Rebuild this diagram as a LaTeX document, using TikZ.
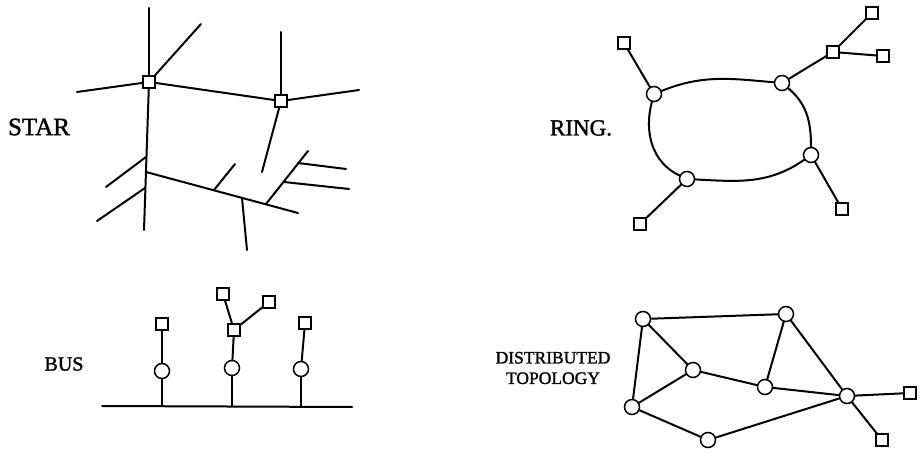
\documentclass[tikz,border=0pt]{standalone}
\usepackage{fontspec}
\setmainfont{Liberation Serif}
\newfontfamily\lblfont{Liberation Serif}[FakeBold=1.5]
\begin{document}
\begin{tikzpicture}[x=1pt,y=1pt,
  ln/.style={line width=2pt,line cap=round},
  sq/.style={draw,line width=1.8pt,rectangle,minimum size=11.5pt,inner sep=0pt,fill=white},
  cir/.style={draw,line width=1.5pt,circle,minimum size=15pt,inner sep=0pt,fill=white},
  lbl/.style={inner sep=0pt,font=\fontsize{#1}{#1}\lblfont},
  lbl/.default=22]
\useasboundingbox (0,0) rectangle (920,455);

% ---------- STAR ----------
\node[lbl=25] (tstar) at (39,328) {STAR};
\node[sq] (A) at (149,373) {};
\node[sq] (B) at (281,354) {};
\coordinate (atop) at (149,447);
\coordinate (abot) at (144,225);
\coordinate (ane) at (201,431);
\coordinate (aw) at (77,363);
\coordinate (be) at (359,365);
\coordinate (btop) at (281,423);
\coordinate (bsw) at (262,283);
\coordinate (L1) at (146,283);
\coordinate (L2) at (298,242);
\coordinate (k1) at (146,298);
\coordinate (k1e) at (106,268);
\coordinate (k2) at (145,267);
\coordinate (k2e) at (97,234);
\coordinate (m1) at (214,265);
\coordinate (m1e) at (235,291);
\coordinate (m2) at (242,257);
\coordinate (m2e) at (247,205);
\coordinate (m3) at (266,251);
\coordinate (m3e) at (308,304);
\coordinate (n1) at (298,292);
\coordinate (n1e) at (346,286);
\coordinate (n2) at (284,273);
\coordinate (n2e) at (349,266);
\draw[ln] (atop) -- (A);
\draw[ln] (A) -- (abot);
\draw[ln] (A) -- (ane);
\draw[ln] (A) -- (aw);
\draw[ln] (A) -- (B);
\draw[ln] (B) -- (be);
\draw[ln] (B) -- (btop);
\draw[ln] (B) -- (bsw);
\draw[ln] (L1) -- (L2);
\draw[ln] (k1) -- (k1e);
\draw[ln] (k2) -- (k2e);
\draw[ln] (m1) -- (m1e);
\draw[ln] (m2) -- (m2e);
\draw[ln] (m3) -- (m3e);
\draw[ln] (n1) -- (n1e);
\draw[ln] (n2) -- (n2e);

% ---------- RING ----------
\node[lbl=23] (tring) at (581,327) {RING.};
\node[cir] (r1) at (654,361) {};
\node[cir] (r2) at (782,372) {};
\node[cir] (r3) at (811,300) {};
\node[cir] (r4) at (687,276) {};
\node[sq] (s1) at (624,412) {};
\node[sq] (s2) at (833,403) {};
\node[sq] (s3) at (872,442) {};
\node[sq] (s4) at (883,399) {};
\node[sq] (s5) at (842,246) {};
\node[sq] (s6) at (640,231) {};
\draw[ln] (r1) to[out=22,in=175] (r2);
\draw[ln] (r2) to[out=-40,in=90] (r3);
\draw[ln] (r3) to[out=-145,in=-3] (r4);
\draw[ln] (r4) to[out=155,in=-105] (r1);
\draw[ln] (r1) -- (s1);
\draw[ln] (r2) -- (s2);
\draw[ln] (s2) -- (s3);
\draw[ln] (s2) -- (s4);
\draw[ln] (r3) -- (s5);
\draw[ln] (r4) -- (s6);

% ---------- BUS ----------
\node[lbl=20] (tbus) at (64,91) {BUS};
\coordinate (busL) at (102,49);
\coordinate (busR) at (352,48);
\coordinate (j1) at (162,49);
\coordinate (j2) at (232,49);
\coordinate (j3) at (301,48);
\node[cir] (c1) at (162,84) {};
\node[cir] (c2) at (232,87) {};
\node[cir] (c3) at (301,86) {};
\node[sq] (q1) at (162,131) {};
\node[sq] (q2) at (234,125) {};
\node[sq] (q2a) at (223,161) {};
\node[sq] (q2b) at (269,153) {};
\node[sq] (q3) at (305,132) {};
\draw[ln] (busL) -- (busR);
\draw[ln] (j1) -- (c1);
\draw[ln] (c1) -- (q1);
\draw[ln] (j2) -- (c2);
\draw[ln] (c2) -- (q2);
\draw[ln] (q2) -- (q2a);
\draw[ln] (q2) -- (q2b);
\draw[ln] (j3) -- (c3);
\draw[ln] (c3) -- (q3);

% ---------- DISTRIBUTED ----------
\node[lbl=17.5,align=center] (tdist) at (553,87) {DISTRIBUTED\\[3pt]TOPOLOGY};
\node[cir] (d1) at (643,136) {};
\node[cir] (d2) at (786,141) {};
\node[cir] (d3) at (693,85) {};
\node[cir] (d4) at (765,68) {};
\node[cir] (d5) at (632,48) {};
\node[cir] (d6) at (708,15) {};
\node[cir] (d7) at (847,59) {};
\node[sq] (t1) at (910,62) {};
\node[sq] (t2) at (882,15) {};
\draw[ln] (d1) -- (d2);
\draw[ln] (d1) -- (d3);
\draw[ln] (d1) -- (d5);
\draw[ln] (d2) -- (d4);
\draw[ln] (d2) -- (d7);
\draw[ln] (d3) -- (d4);
\draw[ln] (d3) -- (d5);
\draw[ln] (d4) -- (d7);
\draw[ln] (d5) -- (d6);
\draw[ln] (d6) -- (d7);
\draw[ln] (d7) -- (t1);
\draw[ln] (d7) -- (t2);
\end{tikzpicture}
\end{document}
